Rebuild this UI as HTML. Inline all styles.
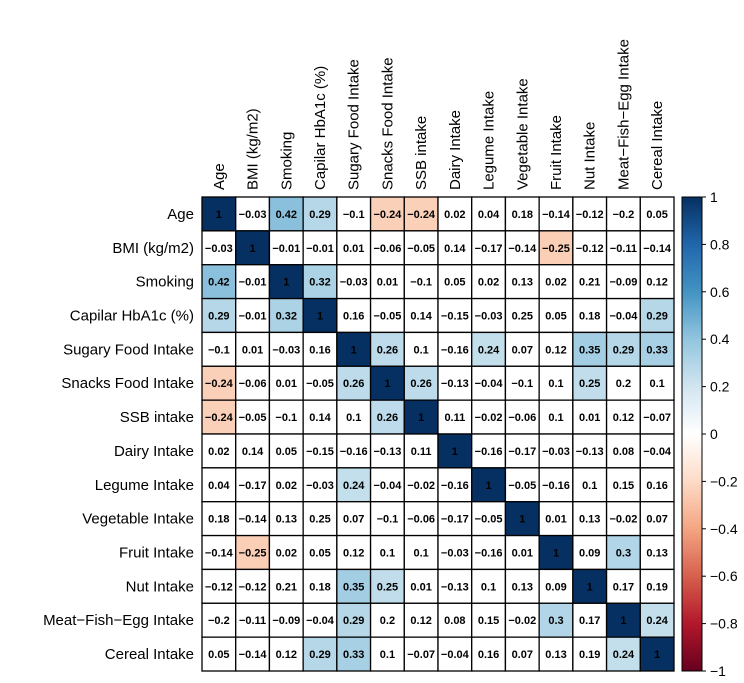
<!DOCTYPE html>
<html><head><meta charset="utf-8"><style>
body{margin:0;background:#fff;}
svg{display:block;font-family:"Liberation Sans",Arial,sans-serif;}
</style></head><body>
<svg id="chart" width="744" height="683" viewBox="0 0 744 683" xmlns="http://www.w3.org/2000/svg">
<defs>
<linearGradient id="cbgrad" x1="0" y1="0" x2="0" y2="1">
<stop offset="0" stop-color="#053061"/><stop offset="0.1" stop-color="#2166AC"/><stop offset="0.2" stop-color="#4393C3"/><stop offset="0.3" stop-color="#92C5DE"/><stop offset="0.4" stop-color="#D1E5F0"/><stop offset="0.5" stop-color="#FFFFFF"/><stop offset="0.6" stop-color="#FDDBC7"/><stop offset="0.7" stop-color="#F4A582"/><stop offset="0.8" stop-color="#D6604D"/><stop offset="0.9" stop-color="#B2182B"/><stop offset="1" stop-color="#67001F"/>
</linearGradient>
</defs>
<g id="cells"></g>
<g id="labels"></g>
<g id="colorbar"></g>
</svg>
<script>
const labels = ["Age","BMI (kg/m2)","Smoking","Capilar HbA1c (%)","Sugary Food Intake","Snacks Food Intake","SSB intake","Dairy Intake","Legume Intake","Vegetable Intake","Fruit Intake","Nut Intake","Meat\u2212Fish\u2212Egg Intake","Cereal Intake"];
const rowAge = [1,-0.03,0.42,0.29,-0.1,-0.24,-0.24,0.02,0.04,0.18,-0.14,-0.12,-0.2,0.05];
const rowBMI = [-0.03,1,-0.01,-0.01,0.01,-0.06,-0.05,0.14,-0.17,-0.14,-0.25,-0.12,-0.11,-0.14];
const rowSmoking = [0.42,-0.01,1,0.32,-0.03,0.01,-0.1,0.05,0.02,0.13,0.02,0.21,-0.09,0.12];
const rowHbA1c = [0.29,-0.01,0.32,1,0.16,-0.05,0.14,-0.15,-0.03,0.25,0.05,0.18,-0.04,0.29];
const rowSugary = [-0.1,0.01,-0.03,0.16,1,0.26,0.1,-0.16,0.24,0.07,0.12,0.35,0.29,0.33];
const rowSnacks = [-0.24,-0.06,0.01,-0.05,0.26,1,0.26,-0.13,-0.04,-0.1,0.1,0.25,0.2,0.1];
const rowSSB = [-0.24,-0.05,-0.1,0.14,0.1,0.26,1,0.11,-0.02,-0.06,0.1,0.01,0.12,-0.07];
const rowDairy = [0.02,0.14,0.05,-0.15,-0.16,-0.13,0.11,1,-0.16,-0.17,-0.03,-0.13,0.08,-0.04];
const rowLegume = [0.04,-0.17,0.02,-0.03,0.24,-0.04,-0.02,-0.16,1,-0.05,-0.16,0.1,0.15,0.16];
const rowVeg = [0.18,-0.14,0.13,0.25,0.07,-0.1,-0.06,-0.17,-0.05,1,0.01,0.13,-0.02,0.07];
const rowFruit = [-0.14,-0.25,0.02,0.05,0.12,0.1,0.1,-0.03,-0.16,0.01,1,0.09,0.3,0.13];
const rowNut = [-0.12,-0.12,0.21,0.18,0.35,0.25,0.01,-0.13,0.1,0.13,0.09,1,0.17,0.19];
const rowMeat = [-0.2,-0.11,-0.09,-0.04,0.29,0.2,0.12,0.08,0.15,-0.02,0.3,0.17,1,0.24];
const rowCereal = [0.05,-0.14,0.12,0.29,0.33,0.1,-0.07,-0.04,0.16,0.07,0.13,0.19,0.24,1];
const matrix = [rowAge,rowBMI,rowSmoking,rowHbA1c,rowSugary,rowSnacks,rowSSB,rowDairy,rowLegume,rowVeg,rowFruit,rowNut,rowMeat,rowCereal];
const whiteCells = ["3-9","9-3"];
const cbTicks = [1,0.8,0.6,0.4,0.2,0,-0.2,-0.4,-0.6,-0.8,-1];
const cbTickLabels = ["1","0.8","0.6","0.4","0.2","0","\u22120.2","\u22120.4","\u22120.6","\u22120.8","\u22121"];

const NS="http://www.w3.org/2000/svg";
const X0=202,Y0=197,X1=674,Y1=671,n=labels.length;
const cw=(X1-X0)/n, ch=(Y1-Y0)/n;
const xPos=i=>X0+i*cw, yPos=i=>Y0+i*ch;
const pal=["#67001F","#B2182B","#D6604D","#F4A582","#FDDBC7","#FFFFFF","#D1E5F0","#92C5DE","#4393C3","#2166AC","#053061"];
function hex(h){return [1,3,5].map(k=>parseInt(h.substr(k,2),16));}
function color(v){
  if(Math.abs(v)<0.23) return "#FFFFFF";
  const t=(v+1)/2*10; const i=Math.min(9,Math.floor(t)); const f=t-i;
  const a=hex(pal[i]),b=hex(pal[i+1]);
  return "rgb("+a.map((c,k)=>Math.round(c+(b[k]-c)*f)).join(",")+")";
}
function mk(tag,attrs,parent){const e=document.createElementNS(NS,tag);for(const k in attrs)e.setAttribute(k,attrs[k]);parent.appendChild(e);return e;}
const gc=document.getElementById('cells'), gl=document.getElementById('labels'), gb=document.getElementById('colorbar');
const fmt=v=>String(v).replace('-','\u2212');
matrix.forEach((row,r)=>row.forEach((v,c)=>{
  const fill = whiteCells.includes(r+'-'+c) ? '#FFFFFF' : color(v);
  const rect=mk('rect',{x:xPos(c),y:yPos(r),width:cw,height:ch,fill:fill,stroke:'#000','stroke-width':1.3},gc);
  
  
  const t=mk('text',{x:xPos(c)+cw/2,y:yPos(r)+ch/2+4,'text-anchor':'middle','font-size':11,'font-weight':'bold',fill:'#000'},gc);
  t.textContent=fmt(v);
  
  
}));
labels.forEach((l,i)=>{
  const t=mk('text',{x:194,y:yPos(i)+ch/2+5,'text-anchor':'end','font-size':15,fill:'#000'},gl);
  t.textContent=l;
  
  
  const cx=xPos(i)+cw/2+5;
  const u=mk('text',{x:cx,y:190,'font-size':15,fill:'#000',transform:'rotate(-90 '+cx+' 190)'},gl);
  u.textContent=l;
  
  
});
const cbX=682,cbW=20;
const cbY=v=>Y0+(1-v)/2*(Y1-Y0);
const bar=mk('rect',{x:cbX,y:Y0,width:cbW,height:Y1-Y0,fill:'url(#cbgrad)',stroke:'#000','stroke-width':1},gb);


cbTicks.forEach((v,i)=>{
  const y=cbY(v);
  const tk=mk('line',{x1:cbX+cbW,x2:cbX+cbW+4,y1:y,y2:y,stroke:'#000','stroke-width':1},gb);
  
  
  const t=mk('text',{x:cbX+cbW+8,y:y+5,'font-size':14,fill:'#000'},gb);
  t.textContent=cbTickLabels[i];
  
  
});
</script>
</body></html>
